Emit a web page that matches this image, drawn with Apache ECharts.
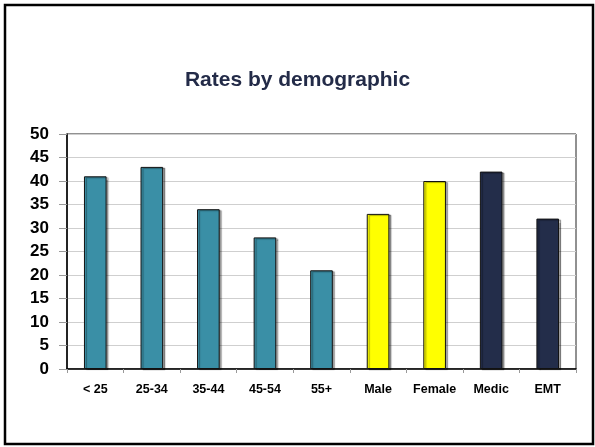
<!DOCTYPE html>
<html>
<head>
<meta charset="utf-8">
<script src="https://cdn.jsdelivr.net/npm/echarts@6/dist/echarts.min.js"></script>
<style>
  html, body { margin: 0; padding: 0; background: #fff; }
  #main { width: 595px; height: 447px; }
</style>
</head>
<body>
<div id="main"></div>
<script>
var categories = ['< 25', '25-34', '35-44', '45-54', '55+', 'Male', 'Female', 'Medic', 'EMT'];
var rates = [41, 43, 34, 28, 21, 33, 40, 42, 32];
var barColors = ['#3a8fa6', '#3a8fa6', '#3a8fa6', '#3a8fa6', '#3a8fa6',
                 '#ffff00', '#ffff00', '#232d4a', '#232d4a'];
var yTicks = [0, 5, 10, 15, 20, 25, 30, 35, 40, 45, 50];

var myChart = echarts.init(document.getElementById('main'), null, { renderer: 'canvas' });

var option = {
    backgroundColor: '#fff',
    animation: false,
    title: {
        text: 'Rates by demographic',
        left: 'center',
        top: 65,
        textStyle: {
            fontFamily: 'Liberation Sans, Arial, sans-serif',
            fontSize: 21,
            fontWeight: 'bold',
            color: '#232b48'
        }
    },
    graphic: [{
        type: 'rect',
        shape: { x: 5, y: 5, width: 588, height: 439 },
        style: { fill: 'none', stroke: '#000', lineWidth: 2.5 },
        silent: true
    }],
    grid: {
        left: 67,
        top: 134,
        width: 509,
        height: 235,
        show: true,
        borderColor: '#222',
        borderWidth: 1
    },
    xAxis: {
        type: 'category',
        data: categories,
        axisLine: { lineStyle: { color: '#000', width: 1.5 } },
        axisTick: { show: true, alignWithLabel: false, length: 4, lineStyle: { color: '#999' } },
        axisLabel: {
            margin: 14,
            fontFamily: 'Liberation Sans, Arial, sans-serif',
            fontSize: 12.5,
            fontWeight: 'bold',
            color: '#000',
            interval: 0
        }
    },
    yAxis: {
        type: 'value',
        min: 0,
        max: 50,
        interval: 5,
        axisLine: { show: true, lineStyle: { color: '#000', width: 1.5 } },
        axisTick: { show: true, length: 8, lineStyle: { color: '#999' } },
        splitLine: { lineStyle: { color: '#cfcfcf', width: 1 } },
        axisLabel: {
            margin: 18,
            fontFamily: 'Liberation Sans, Arial, sans-serif',
            fontSize: 17,
            fontWeight: 'bold',
            color: '#000',
            formatter: function (v) { return yTicks.indexOf(v) >= 0 ? String(v) : ''; }
        }
    },
    series: [{
        type: 'bar',
        barWidth: '40%',
        data: rates.map(function (v, i) {
            return {
                value: v,
                itemStyle: { color: barColors[i] }
            };
        }),
        itemStyle: {
            borderColor: '#111',
            borderWidth: 1,
            shadowColor: 'rgba(0,0,0,0.35)',
            shadowOffsetX: 2,
            shadowOffsetY: 1,
            shadowBlur: 1
        }
    }]
};

myChart.setOption(option);
</script>
</body>
</html>
